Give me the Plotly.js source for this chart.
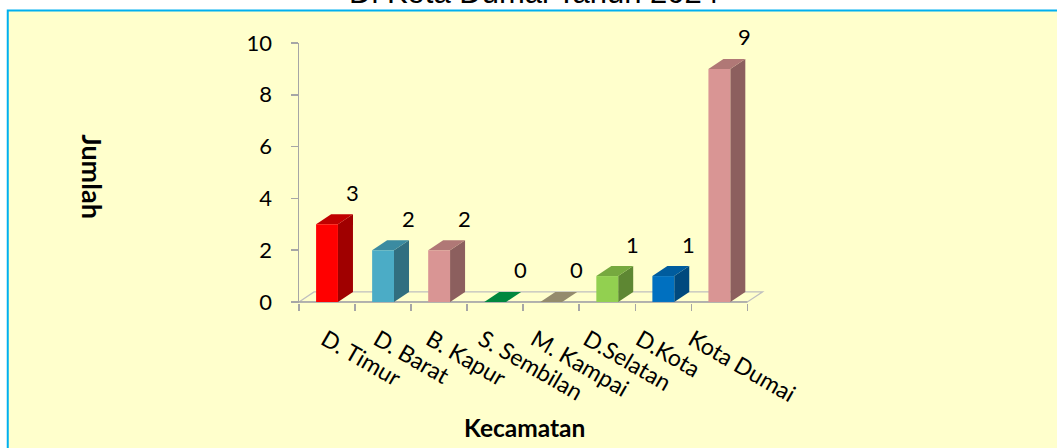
<!DOCTYPE html>
<html><head><meta charset="utf-8">
<script src="https://cdn.plot.ly/plotly-3.0.1.min.js"></script>
<style>html,body{margin:0;padding:0;background:#fff;overflow:hidden}#chart{width:1057px;height:448px}</style>
</head><body><div id="chart"></div>
<script>
// ---- data ----
const categories = ['D. Timur','D. Barat','B. Kapur','S. Sembilan','M. Kampai','D.Selatan','D.Kota','Kota Dumai'];
const values = [3, 2, 2, 0, 0, 1, 1, 9];
const yTicks = [0, 2, 4, 6, 8, 10];
const chartTitle = 'Di Kota Dumai Tahun 2024';
const xTitle = 'Kecamatan';
const yTitle = 'Jumlah';
// ---- styles ----
const frontColors = ['#FF0000','#4BACC6','#D99594','#00B050','#C4BD97','#92D050','#0070C0','#D99594'];
const topColors   = ['#C00000','#3B8BA1','#B07876','#00873F','#948B6D','#76A93F','#005C9E','#B07876'];
const sideColors  = ['#A00000','#316F80','#8C5F5E','#006B32','#7A7259','#5E8733','#00497E','#8C5F5E'];

// ---- geometry ----
const W = 1057, H = 448;
const ML = 299, PW = 467.6, MT = 43, PH = 260;
const MR = W - ML - PW, MB = H - MT - PH;
const px2paperX = p => (p - ML) / PW;
const px2paperY = p => (MT + PH - p) / PH;
const BW = 0.39, DX = 0.268, DY = 0.386;
const nCat = categories.length;
const idx = categories.map((_, i) => i);
const xRange = [-0.5, nCat - 0.5 + 0.35];
// category labels follow Excel's 3D perspective spacing (slightly narrower than the bars)
const labelRange = [-0.496, -0.496 + PW / 52.4];

const shapes = [];
// background panel with blue border
shapes.push({type:'rect', xref:'paper', yref:'paper', layer:'below',
  x0:px2paperX(8), x1:px2paperX(1070), y0:px2paperY(10.5), y1:px2paperY(470),
  fillcolor:'#FFFFCC', line:{color:'#00B0F0', width:2}});
// floor
const fx0 = -0.5, fx1 = nCat - 0.5;
shapes.push({type:'path', xref:'x', yref:'y', layer:'below',
  path:`M ${fx0} 0 L ${fx1} 0 L ${fx1+DX} ${DY} L ${fx0+DX} ${DY} Z`,
  fillcolor:'rgba(0,0,0,0)', line:{color:'#BFBFBF', width:1.3}});
shapes.push({type:'line', xref:'x', yref:'y', layer:'below',
  x0:fx0, x1:fx1, y0:0, y1:0, line:{color:'#A6A6A6', width:1.5}});
// bar side and top faces
values.forEach((v, i) => {
  const l = i - BW/2, r = i + BW/2;
  if (v > 0) {
    shapes.push({type:'path', xref:'x', yref:'y', layer:'below',
      path:`M ${r} 0 L ${r} ${v} L ${r+DX} ${v+DY} L ${r+DX} ${DY} Z`,
      fillcolor:sideColors[i], line:{width:0}});
  }
  shapes.push({type:'path', xref:'x', yref:'y', layer:'below',
    path:`M ${l} ${v} L ${r} ${v} L ${r+DX} ${v+DY} L ${l+DX} ${v+DY} Z`,
    fillcolor:topColors[i], line:{width:0}});
});

const annotations = [];
annotations.push({text:chartTitle, xref:'paper', yref:'paper', x:px2paperX(534), y:px2paperY(12),
  xanchor:'center', yanchor:'bottom', showarrow:false,
  font:{family:'Liberation Sans, Arial, sans-serif', size:31, color:'#000'}});
annotations.push({text:'<b>'+yTitle+'</b>', xref:'paper', yref:'paper', x:px2paperX(93), y:px2paperY(177),
  xanchor:'center', yanchor:'middle', textangle:90, showarrow:false,
  font:{family:'Lato, sans-serif', size:27, color:'#000'}});
annotations.push({text:'<b>'+xTitle+'</b>', xref:'paper', yref:'paper', x:px2paperX(524), y:px2paperY(427),
  xanchor:'center', yanchor:'middle', showarrow:false,
  font:{family:'Lato, sans-serif', size:24.5, color:'#000'}});
values.forEach((v, i) => {
  annotations.push({text:String(v), xref:'x', yref:'y', x:i, y:v, xshift:25, yshift:32,
    xanchor:'center', yanchor:'middle', showarrow:false,
    font:{family:'Lato, sans-serif', size:22, color:'#000'}});
});

const traces = [
  {type:'bar', x:idx, y:values, width:BW, marker:{color:frontColors, line:{width:0}},
   hoverinfo:'skip', showlegend:false, cliponaxis:false},
  {type:'scatter', x:[], y:[], xaxis:'x2', yaxis:'y', showlegend:false}
];

const boundaries = [];
for (let k = 0; k <= nCat; k++) boundaries.push(k - 0.5);

const layout = {
  width:W, height:H,
  margin:{l:ML, r:MR, t:MT, b:MB, pad:0},
  paper_bgcolor:'#FFFFFF', plot_bgcolor:'rgba(0,0,0,0)',
  showlegend:false,
  xaxis:{range:xRange, tickmode:'array', tickvals:boundaries, ticks:'outside', ticklen:7, tickwidth:1.5,
    tickcolor:'#A6A6A6', showticklabels:false, showline:false, showgrid:false, zeroline:false, fixedrange:true},
  xaxis2:{overlaying:'x', anchor:'y', side:'bottom', range:labelRange,
    tickmode:'array', tickvals:idx, ticktext:categories, tickangle:30, ticks:'', ticklabelstandoff:18,
    showline:false, showgrid:false, zeroline:false,
    tickfont:{family:'Lato, sans-serif', size:23, color:'#000'}, fixedrange:true},
  yaxis:{range:[-0.04, 10], tickmode:'array', tickvals:yTicks, ticks:'outside', ticklen:7, tickwidth:1.5,
    tickcolor:'#A6A6A6', showline:true, linecolor:'#A6A6A6', linewidth:1.5, showgrid:false, zeroline:false,
    ticklabelstandoff:14,
    tickfont:{family:'Lato, sans-serif', size:22, color:'#000'}, fixedrange:true},
  shapes:shapes,
  annotations:annotations
};

Plotly.newPlot('chart', traces, layout, {displayModeBar:false, staticPlot:true});
</script>
</body></html>
